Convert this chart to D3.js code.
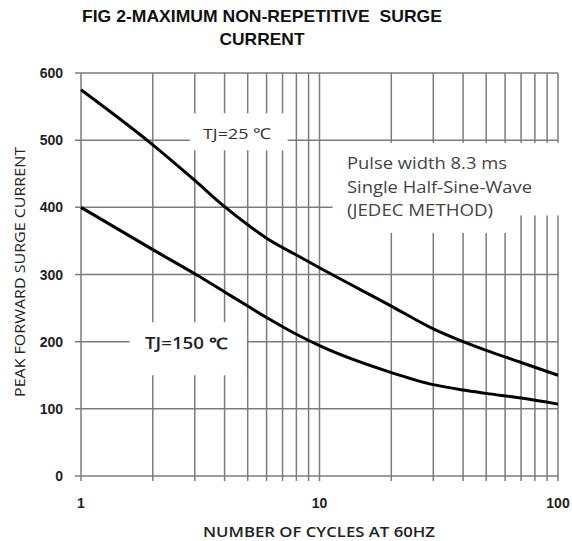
<!DOCTYPE html>
<html><head><meta charset="utf-8">
<script src="https://cdn.jsdelivr.net/npm/d3@7"></script>
<style>body{margin:0;background:#fff}svg{display:block}text{white-space:pre}</style>
</head><body>
<script>
const titleLines = ["FIG 2-MAXIMUM NON-REPETITIVE  SURGE", "CURRENT"];
const xLabel = "NUMBER OF CYCLES AT 60HZ";
const yLabel = "PEAK FORWARD SURGE CURRENT";
const yTicks = [0, 100, 200, 300, 400, 500, 600];
const xTickLabels = [1, 10, 100];
const xGrid = [1,2,3,4,5,6,7,8,9,10,20,30,40,50,60,70,80,90,100];
const cycles = [1, 2, 3, 4, 5, 6, 8, 10, 20, 30, 40, 50, 70, 100];
const tj25  = [575, 493, 440, 401, 374, 354, 329, 310, 253, 219, 200, 187, 169, 150];
const tj150 = [400, 337, 301, 274, 253, 236, 211, 194, 154, 136, 128, 123, 116, 107];
const noteLines = ["Pulse width 8.3 ms", "Single Half-Sine-Wave", "(JEDEC METHOD)"];

const W = 572, H = 541;
const m = {l: 81, r: 14, t: 73, b: 65};
const svg = d3.select("body").append("svg").attr("width", W).attr("height", H);
const x = d3.scaleLog().domain([1, 100]).range([m.l, W - m.r]);
const y = d3.scaleLinear().domain([0, 600]).range([H - m.b, m.t]);
const gridColor = "#7c7c7c";

// grid
svg.append("g").selectAll("line").data(xGrid).join("line")
  .attr("x1", d => x(d)).attr("x2", d => x(d))
  .attr("y1", y(600)).attr("y2", y(0) + 5)
  .attr("stroke", gridColor).attr("stroke-width", 1.5);
svg.append("g").selectAll("line").data(yTicks).join("line")
  .attr("x1", x(1) - 6).attr("x2", x(100))
  .attr("y1", d => y(d)).attr("y2", d => y(d))
  .attr("stroke", gridColor).attr("stroke-width", 1.5);

// white boxes behind labels (in data coordinates)
function box(xa, ya, xb, yb) {
  svg.append("rect").attr("x", x(xa)).attr("y", y(ya))
    .attr("width", x(xb) - x(xa)).attr("height", y(yb) - y(ya)).attr("fill", "#fff");
}
box(2.86, 540, 7.35, 485);
box(1.6, 229, 4.95, 150);
box(11.35, 496, 101, 388);
box(11.35, 390, 63, 362);

// curves
const line = d3.line().x((d, i) => x(cycles[i])).y(d => y(d)).curve(d3.curveMonotoneX);
[tj25, tj150].forEach(s => {
  svg.append("path").attr("d", line(s)).attr("fill", "none").attr("stroke", "#000").attr("stroke-width", 3);
});

// tick labels
svg.append("g").selectAll("text").data(yTicks).join("text")
  .attr("x", 63).attr("y", d => y(d) + 5).attr("text-anchor", "end")
  .attr("font-family", "Liberation Sans, Arial, sans-serif").attr("font-weight", "bold").attr("font-size", 14)
  .attr("fill", "#222").text(d => d);
svg.append("g").selectAll("text").data(xTickLabels).join("text")
  .attr("x", d => x(d)).attr("y", 508).attr("text-anchor", "middle")
  .attr("font-family", "Liberation Sans, Arial, sans-serif").attr("font-weight", "bold").attr("font-size", 14)
  .attr("fill", "#222").text(d => d);

// titles
svg.append("text").attr("x", 262).attr("y", 21.5).attr("text-anchor", "middle")
  .attr("font-family", "Liberation Sans, Arial, sans-serif").attr("font-weight", "bold").attr("font-size", 17)
  .attr("textLength", 360).attr("lengthAdjust", "spacingAndGlyphs")
  .attr("fill", "#111").text(titleLines[0]);
svg.append("text").attr("x", 262).attr("y", 45).attr("text-anchor", "middle")
  .attr("font-family", "Liberation Sans, Arial, sans-serif").attr("font-weight", "bold").attr("font-size", 17)
  .attr("textLength", 85).attr("lengthAdjust", "spacingAndGlyphs")
  .attr("fill", "#111").text(titleLines[1]);
svg.append("text").attr("x", 319).attr("y", 537).attr("text-anchor", "middle")
  .attr("font-family", "Open Sans, sans-serif").attr("font-weight", "600").attr("font-size", 14)
  .attr("textLength", 232).attr("lengthAdjust", "spacingAndGlyphs")
  .attr("fill", "#222").text(xLabel);
svg.append("text").attr("transform", "translate(25,272) rotate(-90)").attr("text-anchor", "middle")
  .attr("font-family", "Open Sans, sans-serif").attr("font-size", 14)
  .attr("textLength", 250).attr("lengthAdjust", "spacingAndGlyphs")
  .attr("fill", "#222").text(yLabel);

// curve labels
svg.append("text").attr("x", 237).attr("y", 139).attr("text-anchor", "middle")
  .attr("font-family", "Open Sans, sans-serif").attr("font-size", 15)
  .attr("textLength", 68).attr("lengthAdjust", "spacingAndGlyphs")
  .attr("fill", "#333").text("TJ=25 ℃");
svg.append("text").attr("x", 186).attr("y", 349).attr("text-anchor", "middle")
  .attr("font-family", "Open Sans, sans-serif").attr("font-weight", "600").attr("font-size", 15.5)
  .attr("textLength", 82).attr("lengthAdjust", "spacingAndGlyphs")
  .attr("fill", "#222").text("TJ=150 ℃");

// note
const noteW = [160, 185, 146];
svg.append("g").selectAll("text").data(noteLines).join("text")
  .attr("x", 347).attr("y", (d, i) => 169 + i * 23.5)
  .attr("font-family", "Open Sans, sans-serif").attr("font-size", 16)
  .attr("textLength", (d, i) => noteW[i]).attr("lengthAdjust", "spacingAndGlyphs")
  .attr("fill", "#444").text(d => d);
</script>
</body></html>
